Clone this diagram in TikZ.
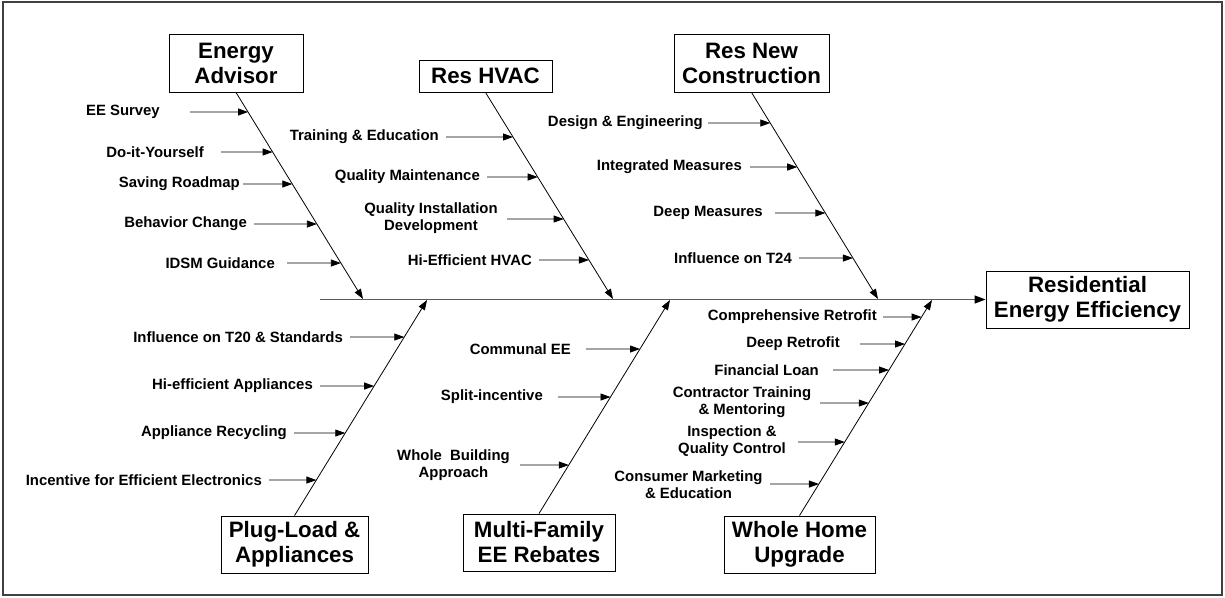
\documentclass[tikz,border=0pt]{standalone}
\usepackage{fontspec}
\setmainfont{Liberation Sans}
\usetikzlibrary{arrows.meta}
\tikzset{
  catbox/.style={draw=black, line width=0.9pt, inner sep=0pt, align=center,
    font=\fontsize{22.3}{25}\selectfont\bfseries},
  lbl/.style={inner sep=0pt, align=center, font=\fontsize{14.9}{17}\selectfont\bfseries},
  arr/.style={-{Triangle[length=10pt,width=7pt]}, line width=0.8pt},
  spine/.style={-{Triangle[length=11pt,width=8pt,color=black]}, line width=1.3pt, draw=black!65}
}
\newcommand\fbr[8]{%
  \node[lbl,anchor=#2] (#1) at (#3,#4) {#5};
  \coordinate (#1s) at (#6,#7);
  \coordinate (#1h) at (#6+10,#7);
  \draw[arr] (#1s) -- (intersection of #8 and #1s--#1h);
}
\begin{document}
\begin{tikzpicture}[x=1pt,y=-1pt]
\useasboundingbox (0,0) rectangle (1225,597);
\draw[draw=black!75, line width=1.5pt] (3,2) rectangle (1222,595);

% category boxes
\node[catbox, minimum width=134pt, minimum height=58pt] (ea) at (236,63) {Energy\\Advisor};
\node[catbox, minimum width=133pt, minimum height=32pt] (hv) at (485.5,76) {Res HVAC};
\node[catbox, minimum width=155pt, minimum height=58pt] (rn) at (751.5,63) {Res New\\Construction};
\node[catbox, minimum width=203pt, minimum height=57pt] (res) at (1087.5,299.5) {Residential\\Energy Efficiency};
\node[catbox, minimum width=147pt, minimum height=57pt] (pl) at (294.5,544.5) {Plug-Load \&\\Appliances};
\node[catbox, minimum width=152pt, minimum height=57pt] (mf) at (539,542.5) {Multi-Family\\EE Rebates};
\node[catbox, minimum width=151pt, minimum height=57pt] (wh) at (799.5,544.5) {Whole Home\\Upgrade};

% spine
\coordinate (sp) at (320,299.5);
\draw[spine] (sp) -- (res.west);

% tips on spine
\coordinate (t1) at (363,299);
\coordinate (t2) at (613,299);
\coordinate (t3) at (878,299);
\coordinate (t4) at (427,300);
\coordinate (t5) at (670,300);
\coordinate (t6) at (932,300);

\draw[arr] (ea.south) -- (t1);
\draw[arr] (hv.south) -- (t2);
\draw[arr] (rn.south) -- (t3);
\draw[arr] (pl.north) -- (t4);
\draw[arr] (mf.north) -- (t5);
\draw[arr] (wh.north) -- (t6);

% Energy Advisor
\fbr{a1}{east}{160}{112}{EE Survey}{190}{112}{ea.south--t1}
\fbr{a2}{east}{204}{152}{Do-it-Yourself}{221}{152}{ea.south--t1}
\fbr{a3}{east}{240}{184}{Saving Roadmap}{243}{184}{ea.south--t1}
\fbr{a4}{east}{247}{224}{Behavior Change}{254}{224}{ea.south--t1}
\fbr{a5}{east}{275}{263}{IDSM Guidance}{287}{263}{ea.south--t1}

% Res HVAC
\fbr{b1}{east}{439}{137}{Training \& Education}{446}{137}{hv.south--t2}
\fbr{b2}{east}{480}{177}{Quality Maintenance}{487}{177}{hv.south--t2}
\fbr{b3}{center}{431}{218.5}{Quality Installation\\Development}{507}{219}{hv.south--t2}
\fbr{b4}{east}{532}{260}{Hi-Efficient HVAC}{539}{260}{hv.south--t2}

% Res New Construction
\fbr{c1}{east}{703}{123}{Design \& Engineering}{708}{123}{rn.south--t3}
\fbr{c2}{east}{742}{167}{Integrated Measures}{750}{167}{rn.south--t3}
\fbr{c3}{east}{763}{213}{Deep Measures}{775}{213}{rn.south--t3}
\fbr{c4}{east}{792}{258}{Influence on T24}{799}{258}{rn.south--t3}

% Plug-Load
\fbr{d1}{east}{343}{337}{Influence on T20 \& Standards}{350}{337}{pl.north--t4}
\fbr{d2}{east}{313}{386}{Hi-efficient Appliances}{320}{386}{pl.north--t4}
\fbr{d3}{east}{287}{433}{Appliance Recycling}{294}{433}{pl.north--t4}
\fbr{d4}{east}{262}{480}{Incentive for Efficient Electronics}{269}{480}{pl.north--t4}

% Multi-Family
\fbr{e1}{east}{571}{349}{Communal EE}{586}{349}{mf.north--t5}
\fbr{e2}{east}{543}{397}{Split-incentive}{558}{397}{mf.north--t5}
\fbr{e3}{center}{453.5}{465}{Whole\ \ Building\\Approach}{520}{465}{mf.north--t5}

% Whole Home Upgrade
\fbr{f1}{east}{877}{317}{Comprehensive Retrofit}{883}{317}{wh.north--t6}
\fbr{f2}{east}{840}{344}{Deep Retrofit}{860}{344}{wh.north--t6}
\fbr{f3}{east}{819}{370}{Financial Loan}{833}{370}{wh.north--t6}
\fbr{f4}{center}{742}{402}{Contractor Training\\\& Mentoring}{820}{403}{wh.north--t6}
\fbr{f5}{center}{732}{441}{Inspection \&\\Quality Control}{798}{442}{wh.north--t6}
\fbr{f6}{center}{688.5}{484.5}{Consumer Marketing\\\& Education}{770}{484}{wh.north--t6}
\end{tikzpicture}
\end{document}
